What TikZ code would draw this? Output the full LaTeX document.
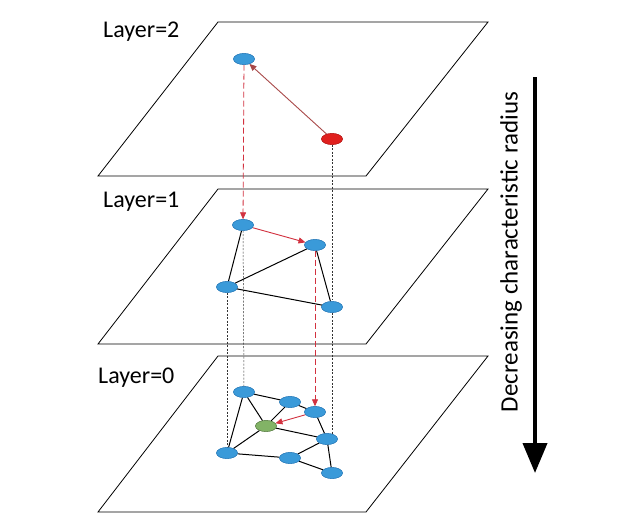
\documentclass[tikz,border=0pt]{standalone}
\usepackage{fontspec}
\setmainfont{Carlito}
\usetikzlibrary{shapes.geometric,arrows.meta}
\definecolor{nblue}{HTML}{3A9AD9}
\definecolor{nblueline}{HTML}{2A7AB8}
\definecolor{nred}{HTML}{E0201E}
\definecolor{ngreen}{HTML}{82B366}
\definecolor{arrred}{HTML}{D2313F}
\definecolor{linkred}{HTML}{A84848}
\tikzset{
  plane/.style={draw=black, line width=0.8pt, fill=white},
  vnode/.style={ellipse, draw=nblueline, line width=0.4pt, fill=nblue, minimum width=21pt, minimum height=11pt, inner sep=0pt},
  rnode/.style={vnode, fill=nred, draw=nred!80!black},
  gnode/.style={vnode, fill=ngreen, draw=ngreen!70!black},
  edge/.style={draw=black, line width=1pt},
  redarrow/.style={draw=arrred, line width=0.9pt, -{Triangle[width=6pt,length=7pt]}},
  reddash/.style={draw=arrred, line width=0.8pt, dash pattern=on 6pt off 3pt, -{Triangle[width=6pt,length=7pt]}},
  blackdash/.style={draw=black!80, line width=0.5pt, dash pattern=on 2pt off 1.5pt},
  layerlabel/.style={font=\fontsize{24}{28}\selectfont, anchor=base west, inner sep=0pt},
}
\begin{document}
\begin{tikzpicture}[x=1pt,y=-1pt]
\useasboundingbox (0,0) rectangle (618,520);
% planes
\draw[plane] (98,176) -- (366,176) -- (488,22) -- (218,22) -- cycle;
\draw[plane] (98,344) -- (366,344) -- (488,189) -- (218,189) -- cycle;
\draw[plane] (98,512) -- (366,512) -- (488,356) -- (218,356) -- cycle;
% labels
\node[layerlabel] (l2) at (103,37) {Layer=2};
\node[layerlabel] (l1) at (103,207) {Layer=1};
\node[layerlabel] (l0) at (98,383) {Layer=0};
% layer 2 nodes
\node[vnode] (t) at (244,59) {};
\node[rnode] (q) at (332,139) {};
% layer 1 nodes
\node[vnode] (A) at (243,225) {};
\node[vnode] (B) at (315,245) {};
\node[vnode] (C) at (227,287) {};
\node[vnode] (D) at (332,307) {};
% layer 0 nodes
\node[vnode] (a) at (244,392) {};
\node[vnode] (b) at (290,402) {};
\node[vnode] (c) at (315,412) {};
\node[gnode] (g) at (266,426) {};
\node[vnode] (d) at (327,439) {};
\node[vnode] (e) at (227,453) {};
\node[vnode] (f) at (290,458) {};
\node[vnode] (h) at (332,473) {};
% vertical links
\coordinate (qD) at (332,300);
\coordinate (De) at (332,436);
\draw[blackdash] (q) -- (qD);
\draw[blackdash] (D) -- (De);
\draw[blackdash] (C) -- (e);
\draw[blackdash] (A) -- (a);
\draw[reddash] (t) -- (A);
\draw[reddash] (B) -- (c);
% layer 2 link
\draw[redarrow, draw=linkred] (q) -- (t);
% layer 1 edges
\draw[edge] (A) -- (C);
\draw[edge] (B) -- (C);
\draw[edge] (C) -- (D);
\draw[edge] (B) -- (D);
\draw[redarrow] (A) -- (B);
% layer 0 edges
\draw[edge] (a) -- (b);
\draw[edge] (b) -- (c);
\draw[edge] (a) -- (g);
\draw[edge] (a) -- (e);
\draw[edge] (b) -- (g);
\draw[edge] (g) -- (d);
\draw[edge] (c) -- (d);
\draw[edge] (g) -- (e);
\draw[edge] (e) -- (f);
\draw[edge] (f) -- (d);
\draw[edge] (d) -- (h);
\draw[edge] (f) -- (h);
\draw[redarrow] (c) -- (g);
% redraw nodes on top
\foreach \n in {t,A,B,C,D,a,b,c,d,e,f,h}{\node[vnode] at (\n) {};}
\node[rnode] at (q) {};
\node[gnode] at (g) {};
% big arrow
\coordinate (s1) at (535,77);
\coordinate (s2) at (535,473);
\draw[line width=4pt, -{Triangle[width=24pt,length=30pt]}] (s1) -- (s2);
\node[rotate=90, font=\fontsize{25}{28}\selectfont, inner sep=0pt] (lab) at (511,252) {Decreasing characteristic radius};
\end{tikzpicture}
\end{document}
